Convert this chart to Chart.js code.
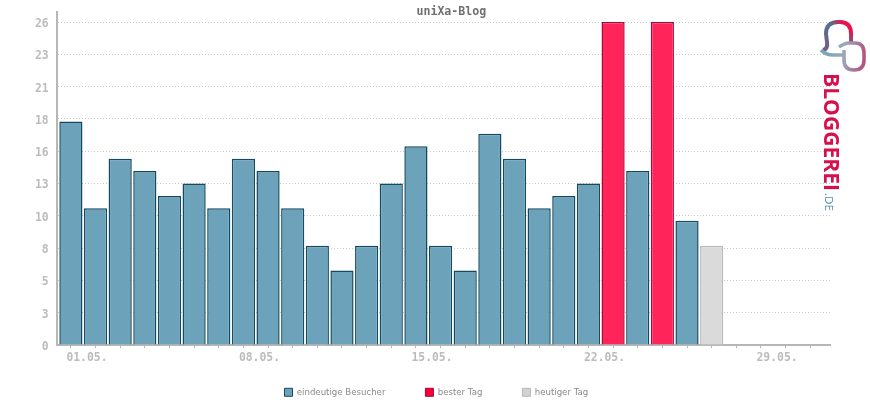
<!DOCTYPE html>
<html>
<head>
<meta charset="utf-8">
<title>uniXa-Blog</title>
<script src="https://cdn.jsdelivr.net/npm/chart.js@4/dist/chart.umd.min.js"></script>
<style>
  html, body { margin: 0; padding: 0; background: #fff; overflow: hidden; }
  #wrap { position: relative; width: 870px; height: 400px; }
  #logo { position: absolute; left: 0; top: 0; pointer-events: none; }
</style>
</head>
<body>
<div id="wrap">
  <canvas id="chart" width="870" height="400"></canvas>
  <svg id="logo" width="870" height="400" viewBox="0 0 870 400">
    <defs>
      <linearGradient id="loopA" gradientUnits="userSpaceOnUse" x1="824" y1="50" x2="852" y2="24">
        <stop offset="0" stop-color="#7a5a80"/>
        <stop offset="0.6" stop-color="#4f7492"/>
        <stop offset="0.85" stop-color="#e8124f"/>
      </linearGradient>
      <linearGradient id="loopB" gradientUnits="userSpaceOnUse" x1="822" y1="52" x2="864" y2="60">
        <stop offset="0" stop-color="#6fa6bd"/>
        <stop offset="0.5" stop-color="#9aa9bd"/>
        <stop offset="1" stop-color="#b2557f"/>
      </linearGradient>
      <linearGradient id="word" gradientUnits="userSpaceOnUse" x1="0" y1="73" x2="0" y2="192">
        <stop offset="0" stop-color="#d80f4d"/>
        <stop offset="0.5" stop-color="#8d4270"/>
        <stop offset="1" stop-color="#3f6f92"/>
      </linearGradient>
    </defs>
    <path d="M823 50 Q828 49 827 42 L826 34 Q826 22 838 22 L840 22 Q851 22 851 34 L851 43" fill="none" stroke="url(#loopA)" stroke-width="4"/>
    <path d="M821 50 Q826 55 833 55 L843 55 M839 47 Q845 43 849 43 L855 43 Q864 43 864 53 L864 60 Q864 70 854 70 Q844 70 844 60 L844 50" fill="none" stroke="url(#loopB)" stroke-width="3.6"/>
    <text transform="translate(824 73) rotate(90)" font-family="'Open Sans'" font-weight="700" font-size="21.5" textLength="118" lengthAdjust="spacingAndGlyphs" fill="url(#word)">BLOGGEREI</text>
    <text transform="translate(825 193) rotate(90)" font-family="'Open Sans'" font-size="11.5" textLength="18" lengthAdjust="spacingAndGlyphs" fill="#4f8fb0">.DE</text>
  </svg>
</div>
<script>
const dayIndexes = [0,1,2,3,4,5,6,7,8,9,10,11,12,13,14,15,16,17,18,19,20,21,22,23,24,25,26,27,28,29,30];
const visitorValues = [18,11,15,14,12,13,11,15,14,11,8,6,8,13,16,8,6,17,15,11,12,13,null,14,null,10,null,null,null,null,null];
const bestValues = [null,null,null,null,null,null,null,null,null,null,null,null,null,null,null,null,null,null,null,null,null,null,26,null,26,null,null,null,null,null,null];
const todayValues = [null,null,null,null,null,null,null,null,null,null,null,null,null,null,null,null,null,null,null,null,null,null,null,null,null,null,8,null,null,null,null];
const xTickDays = [0,7,14,21,28];
const xTickLabels = ['01.05.','08.05.','15.05.','22.05.','29.05.'];
const yTickValues = [0,2.6,5.2,7.8,10.4,13,15.6,18.2,20.8,23.4,26];
const yTickLabels = ['0','3','5','8','10','13','16','18','21','23','26'];

const AXIS = '#b7b7b7';
const MONO = "'DejaVu Sans Mono', monospace";

const toPoints = values => dayIndexes.filter(i => values[i] !== null).map(i => ({x: i, y: values[i]}));

function barSet(label, values, fill, border, legendFill) {
  return {
    label, data: toPoints(values),
    backgroundColor: fill, borderColor: border, borderWidth: 1.5,
    legendFill, barPercentage: 0.94, categoryPercentage: 1
  };
}

new Chart(document.getElementById('chart').getContext('2d'), {
  type: 'bar',
  data: {
    datasets: [
      barSet('eindeutige Besucher', visitorValues, '#6ca3bb', '#134a60', '#6ca3bb'),
      barSet('bester Tag', bestValues, '#ff2459', '#b00638', '#f5003d'),
      barSet('heutiger Tag', todayValues, '#dadada', '#b9b9b9', '#d2d2d2')
    ]
  },
  plugins: [{
    id: 'nudges',
    // the original centres title and legend off the canvas middle, and x labels sit below a thin axis box
    afterLayout(chart) {
      chart.titleBlock.left += 36; chart.titleBlock.right += 36;
      chart.legend.left += 21; chart.legend.right += 21;
      chart.legend.top += 1; chart.legend.bottom += 1;
      chart.scales.x.bottom = 385;
    }
  }],
  options: {
    responsive: false,
    animation: false,
    devicePixelRatio: 1,
    layout: {padding: {left: 0, right: 39.3, top: 0, bottom: 0}},
    scales: {
      x: {
        type: 'linear', stacked: true, offset: false, min: -0.58, max: 30.83,
        afterBuildTicks: s => { s.ticks = dayIndexes.map(v => ({value: v})); },
        afterFit: s => { s.height = 2; s.paddingLeft = 0; s.paddingRight = 0; },
        grid: {offset: false, drawOnChartArea: false, drawTicks: true, tickLength: 3, color: AXIS},
        border: {color: AXIS, width: 2},
        ticks: {
          autoSkip: false, maxRotation: 0, minRotation: 0, align: 'start', labelOffset: -4.5, padding: 3,
          color: '#bcbcbc', font: {family: MONO, size: 11.4, weight: 'bold'},
          callback: v => { const i = xTickDays.indexOf(v); return i < 0 ? '' : xTickLabels[i]; }
        }
      },
      y: {
        stacked: true, min: 0, max: 26.8,
        afterBuildTicks: s => { s.ticks = yTickValues.map(v => ({value: v})); },
        afterFit: s => { s.width = 56.6; s.paddingTop = 0; s.paddingBottom = 0; },
        grid: {color: '#c9c9c9', lineWidth: 1, drawTicks: false},
        border: {color: AXIS, width: 2, dash: [1, 2]},
        ticks: {
          padding: 8, labelOffset: 2, color: '#bcbcbc', font: {family: MONO, size: 11.4, weight: 'bold'},
          callback: v => { const i = yTickValues.indexOf(v); return i < 0 ? '' : yTickLabels[i]; }
        }
      }
    },
    plugins: {
      tooltip: {enabled: false},
      title: {
        display: true, text: 'uniXa-Blog', color: '#707070',
        font: {family: MONO, size: 11.6, weight: 'bold', lineHeight: 0.01},
        padding: {top: 12, bottom: 0}
      },
      legend: {
        position: 'bottom', maxHeight: 53,
        labels: {
          boxWidth: 8, boxHeight: 8, padding: 40, color: '#8a8a8a',
          font: {family: "'DejaVu Sans'", size: 8.6},
          generateLabels: chart => chart.data.datasets.map((d, i) => ({
            text: d.label, fillStyle: d.legendFill, strokeStyle: d.borderColor,
            lineWidth: 1, datasetIndex: i, fontColor: '#8a8a8a'
          }))
        }
      }
    }
  }
});
</script>
</body>
</html>
